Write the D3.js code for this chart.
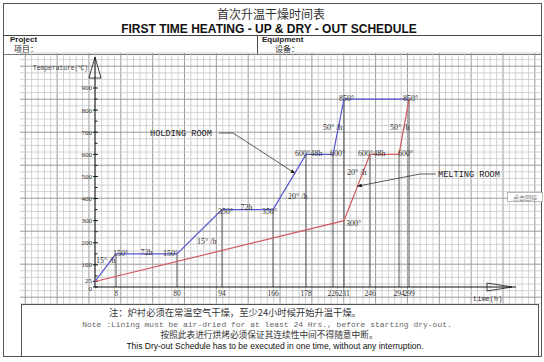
<!DOCTYPE html>
<html>
<head>
<meta charset="utf-8">
<script src="https://cdn.jsdelivr.net/npm/d3@7"></script>
<style>
body { margin: 0; background: #fff; }
svg { display: block; }
</style>
</head>
<body>
<div class="chart"></div>
<script>
// schedule data
const tickHours = [8, 80, 94, 166, 178, 226, 231, 246, 294, 299];
const tempTicks = [0, 25, 100, 200, 300, 400, 500, 600, 700, 800, 900];
const holdingHours = [0, 8, 80, 94, 166, 178, 226, 231, 299];
const holdingTemps = [25, 150, 150, 350, 350, 600, 600, 850, 850];
const meltingHours = [0, 231, 246, 294, 299];
const meltingTemps = [25, 300, 600, 600, 850];

const width = 544, height = 362;
const svg = d3.select(".chart").append("svg")
    .attr("width", width).attr("height", height)
    .attr("viewBox", "0 0 " + width + " " + height);

// the time axis of the sheet is not to scale, each step gets its own width
const axisHours = [0].concat(tickHours);
const x = d3.scaleLinear()
    .domain(axisHours)
    .range([95, 116, 177, 222, 273, 306, 333, 344, 370, 399, 409]);
const y = d3.scaleLinear().domain([0, 900]).range([287, 88]);

// outer frame + header
svg.append("rect")
    .attr("x", 3.5).attr("y", 3.5).attr("width", 538).attr("height", 353)
    .attr("fill", "none").attr("stroke", "#555").attr("stroke-width", 1);

svg.append("text")
    .attr("x", 271).attr("y", 19)
    .attr("text-anchor", "middle")
    .style("font-family", "Noto Sans CJK SC")
    .style("font-size", "12px")
    .style("fill", "#333")
    .text("首次升温干燥时间表");

svg.append("text")
    .attr("x", 269).attr("y", 33)
    .attr("text-anchor", "middle")
    .style("font-family", "Liberation Sans, Arial")
    .style("font-size", "12px")
    .style("font-weight", 700)
    .style("fill", "#111")
    .text("FIRST TIME HEATING - UP & DRY - OUT SCHEDULE");

svg.append("line").attr("x1", 3).attr("x2", 541).attr("y1", 35.5).attr("y2", 35.5)
    .attr("stroke", "#444");
svg.append("line").attr("x1", 3).attr("x2", 541).attr("y1", 54.5).attr("y2", 54.5)
    .attr("stroke", "#777");
svg.append("line").attr("x1", 257.5).attr("x2", 257.5).attr("y1", 35).attr("y2", 54)
    .attr("stroke", "#444");

const head = [
    {t: "Project", x: 10, y: 42, bold: true},
    {t: "项目：", x: 14, y: 52, bold: false},
    {t: "Equipment", x: 262, y: 42, bold: true},
    {t: "设备：", x: 275, y: 52, bold: false}
];
svg.selectAll(".head").data(head).join("text")
    .attr("class", "head")
    .attr("x", d => d.x).attr("y", d => d.y)
    .style("font-family", d => d.bold ? "Liberation Sans, Arial" : "Noto Sans CJK SC")
    .style("font-size", "8px")
    .style("font-weight", d => d.bold ? 700 : 400)
    .style("fill", "#222")
    .text(d => d.t);

// graph paper
const grid = svg.append("g").attr("class", "grid");
const gx = d3.range(0, 83).map(i => ({v: 25.25 + i * 6.37, dark: i % 5 === 0})).filter(d => d.v >= 20 && d.v <= 541);
const gy = d3.range(0, 39).map(i => ({v: 53 + i * 6.6, dark: (i + 3) % 5 === 0}));
grid.selectAll(".gx").data(gx).join("line")
    .attr("x1", d => d.v).attr("x2", d => d.v).attr("y1", 53).attr("y2", 304)
    .attr("stroke", d => d.dark ? "#9a9a9a" : "#c6c6c6")
    .attr("stroke-width", d => d.dark ? 1 : 0.8);
grid.selectAll(".gy").data(gy).join("line")
    .attr("x1", 20).attr("x2", 541).attr("y1", d => d.v).attr("y2", d => d.v)
    .attr("stroke", d => d.dark ? "#9a9a9a" : "#c6c6c6")
    .attr("stroke-width", d => d.dark ? 1 : 0.8);

// drop lines from each time mark up to the highest step
const series = [
    {h: holdingHours, t: holdingTemps, color: "#5656cf"},
    {h: meltingHours, t: meltingTemps, color: "#d2585a"}
];
const topAt = h => d3.max(series, s => {
    const i = s.h.indexOf(h);
    return i < 0 ? 0 : s.t[i];
});
svg.selectAll(".drop").data(tickHours).join("line")
    .attr("class", "drop")
    .attr("x1", d => x(d)).attr("x2", d => x(d))
    .attr("y1", y(0)).attr("y2", d => y(topAt(d)))
    .attr("stroke", "#555").attr("stroke-width", 1);

// axes
const ax = svg.append("g").attr("class", "axes");
ax.append("line").attr("x1", x(0)).attr("x2", x(0)).attr("y1", y(0)).attr("y2", 57)
    .attr("stroke", "#111");
ax.append("path").attr("d", "M95,57 L89,78 L101,78 Z")
    .attr("fill", "none").attr("stroke", "#111").attr("stroke-width", 0.8);
ax.append("line").attr("x1", x(0)).attr("x2", 516).attr("y1", y(0)).attr("y2", y(0))
    .attr("stroke", "#111");
ax.append("path").attr("d", "M487,283 L487,291 L512,287 Z")
    .attr("fill", "none").attr("stroke", "#111").attr("stroke-width", 0.8);

ax.selectAll(".ytick").data(tempTicks).join("line")
    .attr("x1", x(0) - 2).attr("x2", x(0) + 3)
    .attr("y1", d => y(d)).attr("y2", d => y(d))
    .attr("stroke", "#111");
ax.selectAll(".yminor").data(d3.range(50, 900, 100)).join("line")
    .attr("x1", x(0)).attr("x2", x(0) + 2.5)
    .attr("y1", d => y(d)).attr("y2", d => y(d))
    .attr("stroke", "#111");
// 0 and 25 sit very close, nudge them apart a little
ax.selectAll(".ylab").data(tempTicks).join("text")
    .attr("x", x(0) - 3)
    .attr("y", d => y(d) + (d === 0 ? 1.5 : d === 25 ? -1.2 : 0))
    .attr("dy", "0.35em")
    .attr("text-anchor", "end")
    .style("font-family", "Liberation Serif")
    .style("font-size", "7px")
    .style("fill", "#333")
    .text(d => d);
ax.selectAll(".xlab").data(tickHours).join("text")
    .attr("x", d => x(d)).attr("y", 295.5)
    .attr("text-anchor", "middle")
    .style("font-family", "Liberation Serif")
    .style("font-size", "7.5px")
    .style("fill", "#333")
    .text(d => d);

ax.append("text").attr("x", 33).attr("y", 70)
    .style("font-family", "Liberation Mono")
    .style("font-size", "6.3px").style("fill", "#444")
    .text("Temperature(℃)");
ax.append("text").attr("x", 473).attr("y", 300.5)
    .style("font-family", "Liberation Mono")
    .style("font-size", "7px").style("fill", "#333")
    .text("time(h)");

// the two curves
const line = d3.line().x(d => x(d[0])).y(d => y(d[1]));
svg.selectAll(".curve").data(series).join("path")
    .attr("class", "curve")
    .attr("d", s => line(d3.zip(s.h, s.t)))
    .attr("fill", "none")
    .attr("stroke", s => s.color)
    .attr("stroke-width", 1.2);

// step labels, anchored on the schedule points
const notes = [
    ["15° /h", 0, 100, 1, -2], ["150°", 8, 150, -3, 2], ["72h", 44, 150, -6, 1], ["150°", 80, 150, -14, 2],
    ["15° /h", 80, 195, 20, 0], ["350°", 94, 350, -4, 4], ["72h", 130, 350, -7, 0], ["350°", 166, 350, -11, 4],
    ["20° /h", 166, 400, 15, 0], ["600°48h", 178, 600, -11, 2], ["600°", 226, 600, -3, 2],
    ["850°", 231, 850, -5, 2], ["50° /h", 231, 720, -21, 2],
    ["20° /h", 231, 500, 3, -1], ["600°48h", 246, 600, -12, 2], ["600°", 294, 600, -1, 2],
    ["850°", 299, 850, -6, 2], ["50° /h", 294, 720, -9, 2], ["300°", 231, 300, 2, 5]
];
svg.selectAll(".note").data(notes).join("text")
    .attr("class", "note")
    .attr("x", d => x(d[1]) + d[3]).attr("y", d => y(d[2]) + d[4])
    .style("font-family", "Liberation Serif")
    .style("font-size", "8px")
    .style("fill", "#333")
    .text(d => d[0]);

// room call-outs
const defs = svg.append("defs");
defs.append("marker").attr("id", "tip")
    .attr("viewBox", "0 0 10 10").attr("refX", 9).attr("refY", 5)
    .attr("markerWidth", 6).attr("markerHeight", 6).attr("orient", "auto")
    .append("path").attr("d", "M0,1 L10,5 L0,9 Z").attr("fill", "#222");

const along = (h0, h1, t0, t1, f) => [x(h0) + f * (x(h1) - x(h0)), y(t0 + f * (t1 - t0))];
const holdTip = along(166, 178, 350, 600, 0.66);
const meltTip = along(231, 246, 300, 600, 0.52);
svg.append("path")
    .attr("d", "M219,133 L233,133 L" + holdTip[0] + "," + holdTip[1])
    .attr("fill", "none").attr("stroke", "#333").attr("stroke-width", 0.8)
    .attr("marker-end", "url(#tip)");
svg.append("path")
    .attr("d", "M436,174 L420,174 L" + meltTip[0] + "," + meltTip[1])
    .attr("fill", "none").attr("stroke", "#333").attr("stroke-width", 0.8)
    .attr("marker-end", "url(#tip)");
svg.append("text").attr("x", 150).attr("y", 136)
    .style("font-family", "Liberation Mono").style("font-size", "8.6px").style("fill", "#222")
    .text("HOLDING ROOM");
svg.append("text").attr("x", 438).attr("y", 177)
    .style("font-family", "Liberation Mono").style("font-size", "8.6px").style("fill", "#222")
    .text("MELTING ROOM");

// little pop-up box on the right edge
svg.append("rect").attr("x", 507.5).attr("y", 192.5).attr("width", 35).attr("height", 9)
    .attr("fill", "#fff").attr("stroke", "#aaa").attr("stroke-width", 0.8);
svg.append("text").attr("x", 525).attr("y", 199.5).attr("text-anchor", "middle")
    .style("font-family", "Noto Sans CJK SC").style("font-size", "6px").style("fill", "#777")
    .text("点击回停");

// note box
svg.append("rect").attr("x", 21.5).attr("y", 304.5).attr("width", 517).attr("height", 52)
    .attr("fill", "#fff").attr("stroke", "#555").attr("stroke-width", 1);
const notesText = [
    {t: "注：炉衬必须在常温空气干燥，至少24小时候开始升温干燥。", x: 235, y: 316, f: "Noto Sans CJK SC", s: 9.3, c: "#333"},
    {t: "Note :Lining must be air-dried for at least 24 Hrs., before starting dry-out.", x: 267, y: 327, f: "Liberation Mono", s: 8, c: "#666"},
    {t: "按照此表进行烘烤必须保证其连续性中间不得随意中断。", x: 269, y: 338, f: "Noto Sans CJK SC", s: 8.7, c: "#333"},
    {t: "This Dry-out Schedule has to be executed in one time, without any interruption.", x: 275, y: 349, f: "Liberation Sans, Arial", s: 8.5, c: "#111"}
];
svg.selectAll(".nb").data(notesText).join("text")
    .attr("class", "nb")
    .attr("x", d => d.x).attr("y", d => d.y)
    .attr("text-anchor", "middle")
    .style("font-family", d => d.f)
    .style("font-size", d => d.s + "px")
    .style("fill", d => d.c)
    .text(d => d.t);
</script>
</body>
</html>
